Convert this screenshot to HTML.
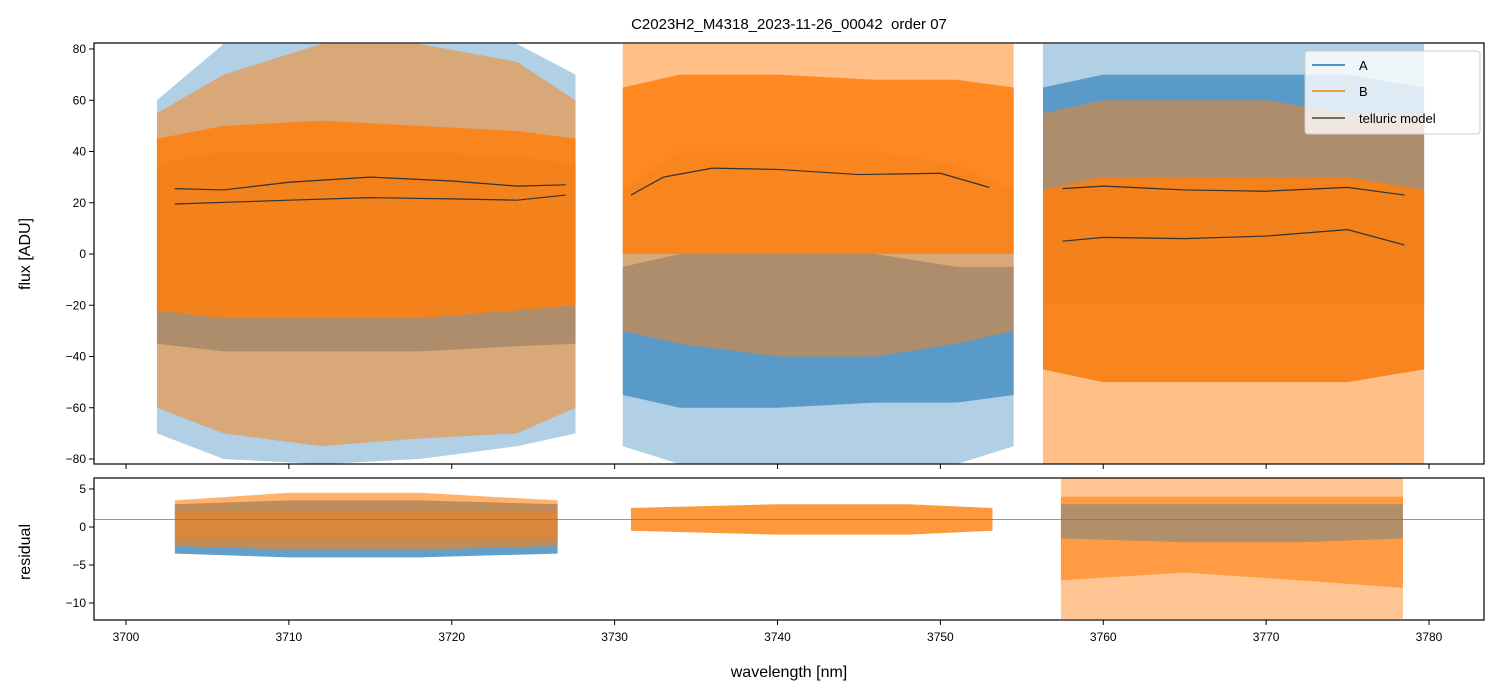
<!DOCTYPE html>
<html><head><meta charset="utf-8"><style>
body{margin:0;background:#fff;}
svg{display:block;font-family:"Liberation Sans","DejaVu Sans",sans-serif;}
</style></head><body>
<div style="position:relative;width:1502px;height:696px">
<svg id="chart" width="1502" height="696" viewBox="0 0 1502 696" style="position:absolute;left:0;top:0"></svg>
<svg width="1502" height="696" style="position:absolute;left:0;top:0">
<text x="789" y="29" font-size="15" text-anchor="middle" xml:space="preserve" font-family="Liberation Sans,sans-serif">C2023H2_M4318_2023-11-26_00042  order 07</text>
<text x="789" y="677" font-size="16" text-anchor="middle" font-family="Liberation Sans,sans-serif">wavelength [nm]</text>
<text transform="translate(30,254) rotate(-90)" font-size="16" text-anchor="middle" font-family="Liberation Sans,sans-serif">flux [ADU]</text>
<text transform="translate(30,552) rotate(-90)" font-size="16" text-anchor="middle" font-family="Liberation Sans,sans-serif">residual</text>
<g font-family="Liberation Sans,sans-serif" font-size="13">
<rect x="1305" y="51" width="175" height="83" rx="3" fill="#fff" fill-opacity="0.8" stroke="#ccc"/>
<line x1="1312" x2="1345" y1="65" y2="65" stroke="#1f77b4" stroke-width="1.5"/><text x="1359" y="70">A</text>
<line x1="1312" x2="1345" y1="91" y2="91" stroke="#ff7f0e" stroke-width="1.5"/><text x="1359" y="96">B</text>
<line x1="1312" x2="1345" y1="118" y2="118" stroke="#444" stroke-width="1.5"/><text x="1359" y="123">telluric model</text>
</g>
</svg>
</div>
<script>
// ---- data ----
const xTicks=[3700,3710,3720,3730,3740,3750,3760,3770,3780];
const yTicksMain=[80,60,40,20,0,-20,-40,-60,-80];
const yTicksRes=[5,0,-5,-10];
const segA1x=[3701.9,3706,3712,3718,3724,3727.6];
const segA1lo=[-70,-80,-82,-80,-75,-70];const segA1hi=[60,82,82,82,82,70];
const segA1clo=[-35,-38,-38,-38,-36,-35];const segA1chi=[35,40,40,40,38,35];
const segB1x=[3701.9,3706,3712,3718,3724,3727.6];
const segB1lo=[-60,-70,-75,-72,-70,-60];const segB1hi=[55,70,82,82,75,60];
const segB1clo=[-22,-25,-25,-25,-22,-20];const segB1chi=[45,50,52,50,48,45];
const segA2x=[3730.5,3734,3740,3746,3751,3754.5];
const segA2lo=[-75,-82,-82,-82,-82,-75];const segA2hi=[25,40,40,40,35,25];
const segA2clo=[-55,-60,-60,-58,-58,-55];const segA2chi=[-5,0,0,0,-5,-5];
const segB2x=[3730.5,3734,3740,3746,3751,3754.5];
const segB2lo=[-30,-35,-40,-40,-35,-30];const segB2hi=[82,82,82,82,82,82];
const segB2clo=[0,0,0,0,0,0];const segB2chi=[65,70,70,68,68,65];
const segA3x=[3756.3,3760,3765,3770,3775,3779.7];
const segA3lo=[-45,-50,-50,-50,-50,-45];const segA3hi=[82,82,82,82,82,82];
const segA3clo=[-20,-20,-20,-20,-20,-20];const segA3chi=[65,70,70,70,70,65];
const segB3x=[3756.3,3760,3765,3770,3775,3779.7];
const segB3lo=[-82,-82,-82,-82,-82,-82];const segB3hi=[55,60,60,60,55,55];
const segB3clo=[-45,-50,-50,-50,-50,-45];const segB3chi=[25,30,30,30,30,25];
const tel1ax=[3703,3706,3710,3715,3720,3724,3727];const tel1ay=[25.5,25,28,30,28.5,26.5,27];
const tel1bx=[3703,3710,3715,3720,3724,3727];const tel1by=[19.5,21,22,21.5,21,23];
const tel2x=[3731,3733,3736,3740,3745,3750,3753];const tel2y=[23,30,33.5,33,31,31.5,26];
const tel3ax=[3757.5,3760,3765,3770,3775,3778.5];const tel3ay=[25.5,26.5,25,24.5,26,23];
const tel3bx=[3757.5,3760,3765,3770,3775,3778.5];const tel3by=[5,6.5,6,7,9.5,3.5];
const rA1x=[3703,3710,3718,3726.5];const rA1lo=[-3.5,-4,-4,-3.5];const rA1hi=[3,3.5,3.5,3];
const rB1x=[3703,3710,3718,3726.5];const rB1lo=[-2.5,-3,-3,-2.5];const rB1hi=[3.5,4.5,4.5,3.5];
const rB1clo=[-1.5,-1.5,-1.5,-1.5];const rB1chi=[2,2,2,2];
const rB2x=[3731,3740,3748,3753.2];const rB2lo=[-0.5,-1,-1,-0.5];const rB2hi=[2.5,3,3,2.5];
const rA3x=[3757.4,3765,3772,3778.4];const rA3lo=[-1.5,-2,-2,-1.5];const rA3hi=[3,3,3,3];
const rB3x=[3757.4,3765,3772,3778.4];const rB3lo=[-12.1,-12.1,-12.1,-12.1];const rB3hi=[6.4,6.4,6.4,6.4];
const rB3clo=[-7,-6,-7,-8];const rB3chi=[4,4,4,4];

const L=94,R=1484,mT=43,mB=464,rT=478,rB=620;
const xs=v=>126+(v-3700)*(1429-126)/80;
const ym=v=>254-v*(254-49)/80;
const yr=v=>527-v*(527-489)/5;
const svg=document.getElementById('chart');
const NS='http://www.w3.org/2000/svg';
function el(t,a,p){const e=document.createElementNS(NS,t);for(const k in a)e.setAttribute(k,a[k]);(p||svg).appendChild(e);return e;}
const defs=el('defs',{});
const c1=el('clipPath',{id:'cm'},defs);el('rect',{x:L,y:mT,width:R-L,height:mB-mT},c1);
const c2=el('clipPath',{id:'cr'},defs);el('rect',{x:L,y:rT,width:R-L,height:rB-rT},c2);
const gm=el('g',{'clip-path':'url(#cm)'});


const gr=el('g',{'clip-path':'url(#cr)'});


function band(g,X,lo,hi,ys,col,op,name){
  let d='M'+X.map((x,i)=>xs(x)+','+ys(hi[i])).join('L');
  for(let i=X.length-1;i>=0;i--)d+='L'+xs(X[i])+','+ys(lo[i]);
  const p=el('path',{d:d+'Z',fill:col,'fill-opacity':op},g);
  
  
}
function line(g,X,Y,ys,col,w,name){
  const p=el('polyline',{points:X.map((x,i)=>xs(x)+','+ys(Y[i])).join(' '),fill:'none',stroke:col,'stroke-width':w},g);
  
  
}
const BL='#1f77b4',OR='#ff7f0e';
[[segA1x,segA1lo,segA1hi,segA1clo,segA1chi],[segA2x,segA2lo,segA2hi,segA2clo,segA2chi],[segA3x,segA3lo,segA3hi,segA3clo,segA3chi]].forEach((s,i)=>{
  band(gm,s[0],s[1],s[2],ym,BL,0.35,'series-a-spikes-'+(i+1));band(gm,s[0],s[3],s[4],ym,BL,0.6,'series-a-core-'+(i+1));});
[[segB1x,segB1lo,segB1hi,segB1clo,segB1chi],[segB2x,segB2lo,segB2hi,segB2clo,segB2chi],[segB3x,segB3lo,segB3hi,segB3clo,segB3chi]].forEach((s,i)=>{
  band(gm,s[0],s[1],s[2],ym,OR,0.5,'series-b-spikes-'+(i+1));band(gm,s[0],s[3],s[4],ym,OR,0.85,'series-b-core-'+(i+1));});
[[tel1ax,tel1ay],[tel1bx,tel1by],[tel2x,tel2y],[tel3ax,tel3ay],[tel3bx,tel3by]].forEach((t,i)=>line(gm,t[0],t[1],ym,'#333',1.2,'telluric-model-'+(i+1)));
band(gr,rA1x,rA1lo,rA1hi,yr,BL,0.7,'residual-a-1');
band(gr,rB1x,rB1lo,rB1hi,yr,OR,0.6,'residual-b-1');
band(gr,rB1x,rB1clo,rB1chi,yr,OR,0.4,'residual-b-1-core');
band(gr,rB2x,rB2lo,rB2hi,yr,OR,0.8,'residual-b-2');
band(gr,rB3x,rB3lo,rB3hi,yr,OR,0.45,'residual-b-3');
band(gr,rB3x,rB3clo,rB3chi,yr,OR,0.6,'residual-b-3-core');
band(gr,rA3x,rA3lo,rA3hi,yr,BL,0.35,'residual-a-3');
const zl=el('line',{x1:L,x2:R,y1:yr(1),y2:yr(1),stroke:'#777','stroke-width':0.8},gr);


[[mT,mB,'main-axes-frame'],[rT,rB,'residual-axes-frame']].forEach(f=>{
  const r=el('rect',{x:L,y:f[0],width:R-L,height:f[1]-f[0],fill:'none',stroke:'#000','stroke-width':1.2});
  
  });
xTicks.forEach(v=>{
  const x=xs(v);
  el('line',{x1:x,x2:x,y1:mB,y2:mB+5,stroke:'#000'});
  el('line',{x1:x,x2:x,y1:rB,y2:rB+5,stroke:'#000'});
  const t=el('text',{x:x,y:rB+21,'font-size':12,'text-anchor':'middle'});t.textContent=v;
  
  
});
yTicksMain.forEach(v=>{
  const y=ym(v);el('line',{x1:L-5,x2:L,y1:y,y2:y,stroke:'#000'});
  const t=el('text',{x:L-8,y:y+4,'font-size':12,'text-anchor':'end'});t.textContent=v<0?'\u2212'+(-v):v;
  
  
});
yTicksRes.forEach(v=>{
  const y=yr(v);el('line',{x1:L-5,x2:L,y1:y,y2:y,stroke:'#000'});
  const t=el('text',{x:L-8,y:y+4,'font-size':12,'text-anchor':'end'});t.textContent=v<0?'\u2212'+(-v):v;
  
  
});
</script>
</body></html>
